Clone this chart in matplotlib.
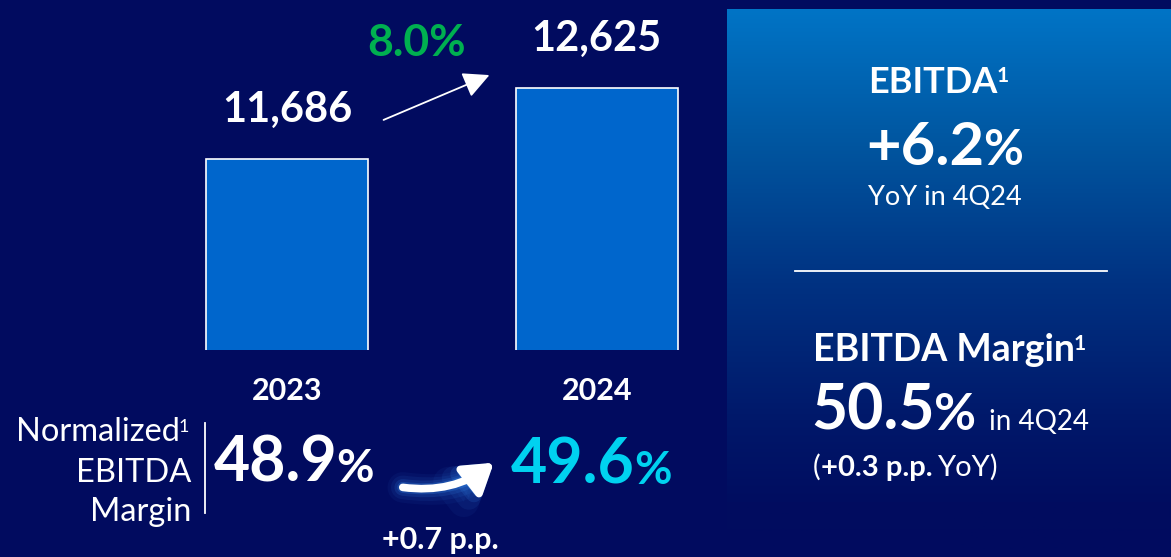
import numpy as np
import matplotlib
matplotlib.use("Agg")
import matplotlib.pyplot as plt
from matplotlib.colors import LinearSegmentedColormap
from matplotlib.patches import FancyArrowPatch
from matplotlib.lines import Line2D

# ---- data ----
years = ["2023", "2024"]
ebitda = [11686, 12625]
growth_label = "8.0%"
margins = ["48.9", "49.6"]
margin_change = "+0.7 p.p."
q_growth = "+6.2"
q_margin = "50.5"
q_margin_change = "+0.3 p.p."

W, H = 1171, 557
BG = "#010B5F"
BAR = "#0066CC"
GREEN = "#00B050"
CYAN = "#00D2F0"
FONT = "Lato"

plt.rcParams["font.family"] = [FONT, "DejaVu Sans"]

fig = plt.figure(figsize=(W / 100, H / 100), dpi=100)
fig.patch.set_facecolor(BG)
renderer = fig.canvas.get_renderer()


def fx(px):
    return px / W


def fy(py):
    return 1 - py / H


def ftext(x, y, s, **kw):
    kw.setdefault("color", "white")
    return fig.text(fx(x), fy(y), s, **kw)


def after(artist, yb, s, gap=0.0, rise=0.0, **kw):
    """Place text right after an existing text artist, on the given baseline."""
    kw.setdefault("color", "white")
    e = artist.get_window_extent(renderer)
    return fig.text((e.x1 + gap) / W, fy(yb - rise), s, ha="left", va="baseline", **kw)


# ---- right-hand panel with vertical gradient ----
pax = fig.add_axes([fx(727), 0, 1 - fx(727), fy(9)])
pax.set_axis_off()
cmap = LinearSegmentedColormap.from_list(
    "panel",
    [(0.0, "#0074C6"), (0.25, "#00559F"), (0.5, "#003282"),
     (0.75, "#00186A"), (0.9, "#010D60"), (1.0, BG)])
grad = np.linspace(0, 1, 256).reshape(-1, 1)
pax.imshow(grad, cmap=cmap, aspect="auto", extent=[0, 1, 0, 1], origin="upper")
pax.set_xlim(0, 1)
pax.set_ylim(0, 1)

# ---- bar chart ----
ax = fig.add_axes([fx(132.5), fy(350), fx(619), 350 / H])
ax.set_facecolor("none")
x = np.arange(len(years))
bars = ax.bar(x, ebitda, width=0.523, color=BAR, edgecolor="white", linewidth=1.2)
ax.set_xlim(-0.5, 1.5)
ax.set_ylim(9160, 13789)
ax.set_axis_off()
for xi, v in zip(x, ebitda):
    ax.annotate(f"{v:,}", xy=(xi, v), xytext=(0, 37), textcoords="offset pixels",
                ha="center", va="baseline", color="white", fontsize=30,
                fontweight="bold")
    ax.annotate(years[xi], xy=(xi, 9160), xytext=(0, -50), textcoords="offset pixels",
                ha="center", va="baseline", color="white", fontsize=22,
                fontweight="bold")

# growth arrow and label
fig.patches.append(FancyArrowPatch((fx(381), fy(121)), (fx(492), fy(74)),
                                   transform=fig.transFigure,
                                   arrowstyle="-|>,head_length=10,head_width=5",
                                   mutation_scale=1.6, color="white", lw=1.3))
ftext(417, 56, growth_label, ha="center", va="baseline", color=GREEN,
      fontsize=32, fontweight="bold")

# ---- margin row ----
t = ftext(180, 441, "Normalized", ha="right", va="baseline", fontsize=23.5)
after(t, 441, "1", gap=-1, rise=9, fontsize=13)
for s, yb in zip(["EBITDA", "Margin"], [482, 521]):
    ftext(191, yb, s, ha="right", va="baseline", fontsize=23.5)
fig.add_artist(Line2D([fx(205), fx(205)], [fy(423), fy(513)], color="white", lw=1.3,
                      transform=fig.transFigure))


def big_pct(x0, yb, num, size, pct_size, color="white", gap=-1):
    t = ftext(x0, yb, num, ha="left", va="baseline", fontsize=size,
              fontweight="bold", color=color)
    p = after(t, yb, "%", gap=gap, fontsize=pct_size, fontweight="bold", color=color)
    return t, p


big_pct(214, 482, margins[0], 45, 33)
big_pct(511, 484, margins[1], 45, 33, color=CYAN)

# curved glowing arrow
start, end = (fx(400), fy(487)), (fx(496), fy(461))
for lw, a in [(22, 0.05), (17, 0.08), (12, 0.13), (8, 0.22)]:
    fig.patches.append(FancyArrowPatch(start, end, transform=fig.transFigure,
                                       connectionstyle="arc3,rad=0.22",
                                       arrowstyle="-|>,head_length=14,head_width=9",
                                       mutation_scale=1.0, color="#3C9BFF", lw=lw,
                                       alpha=a))
fig.patches.append(FancyArrowPatch(start, end, transform=fig.transFigure,
                                   connectionstyle="arc3,rad=0.22",
                                   arrowstyle="-|>,head_length=17,head_width=11",
                                   mutation_scale=1.0, color="white", lw=5.5))
ftext(440, 549, margin_change, ha="center", va="baseline", fontsize=22,
      fontweight="bold")

# ---- right panel texts ----
t = ftext(868, 93, "EBITDA", ha="left", va="baseline", fontsize=26, fontweight="bold")
after(t, 93, "1", gap=-1, rise=11, fontsize=15, fontweight="bold")
big_pct(866, 165, q_growth, 43, 35)
ftext(868, 205, "YoY in 4Q24", ha="left", va="baseline", fontsize=19.5)
fig.add_artist(Line2D([fx(795), fx(1107)], [fy(271), fy(271)], color="white", lw=1.3,
                      transform=fig.transFigure))
t = ftext(813, 361, "EBITDA Margin", ha="left", va="baseline", fontsize=27,
          fontweight="bold")
after(t, 361, "1", gap=-1, rise=11, fontsize=15, fontweight="bold")
t, p = big_pct(811, 430, q_margin, 45, 37)
after(p, 430, "in 4Q24", gap=13, fontsize=20)
a1 = ftext(813, 476, "(", ha="left", va="baseline", fontsize=21)
a2 = after(a1, 476, q_margin_change, fontsize=21, fontweight="bold")
after(a2, 476, "YoY)", gap=5, fontsize=21)

fig.savefig("out.png", dpi=100, facecolor=BG)
